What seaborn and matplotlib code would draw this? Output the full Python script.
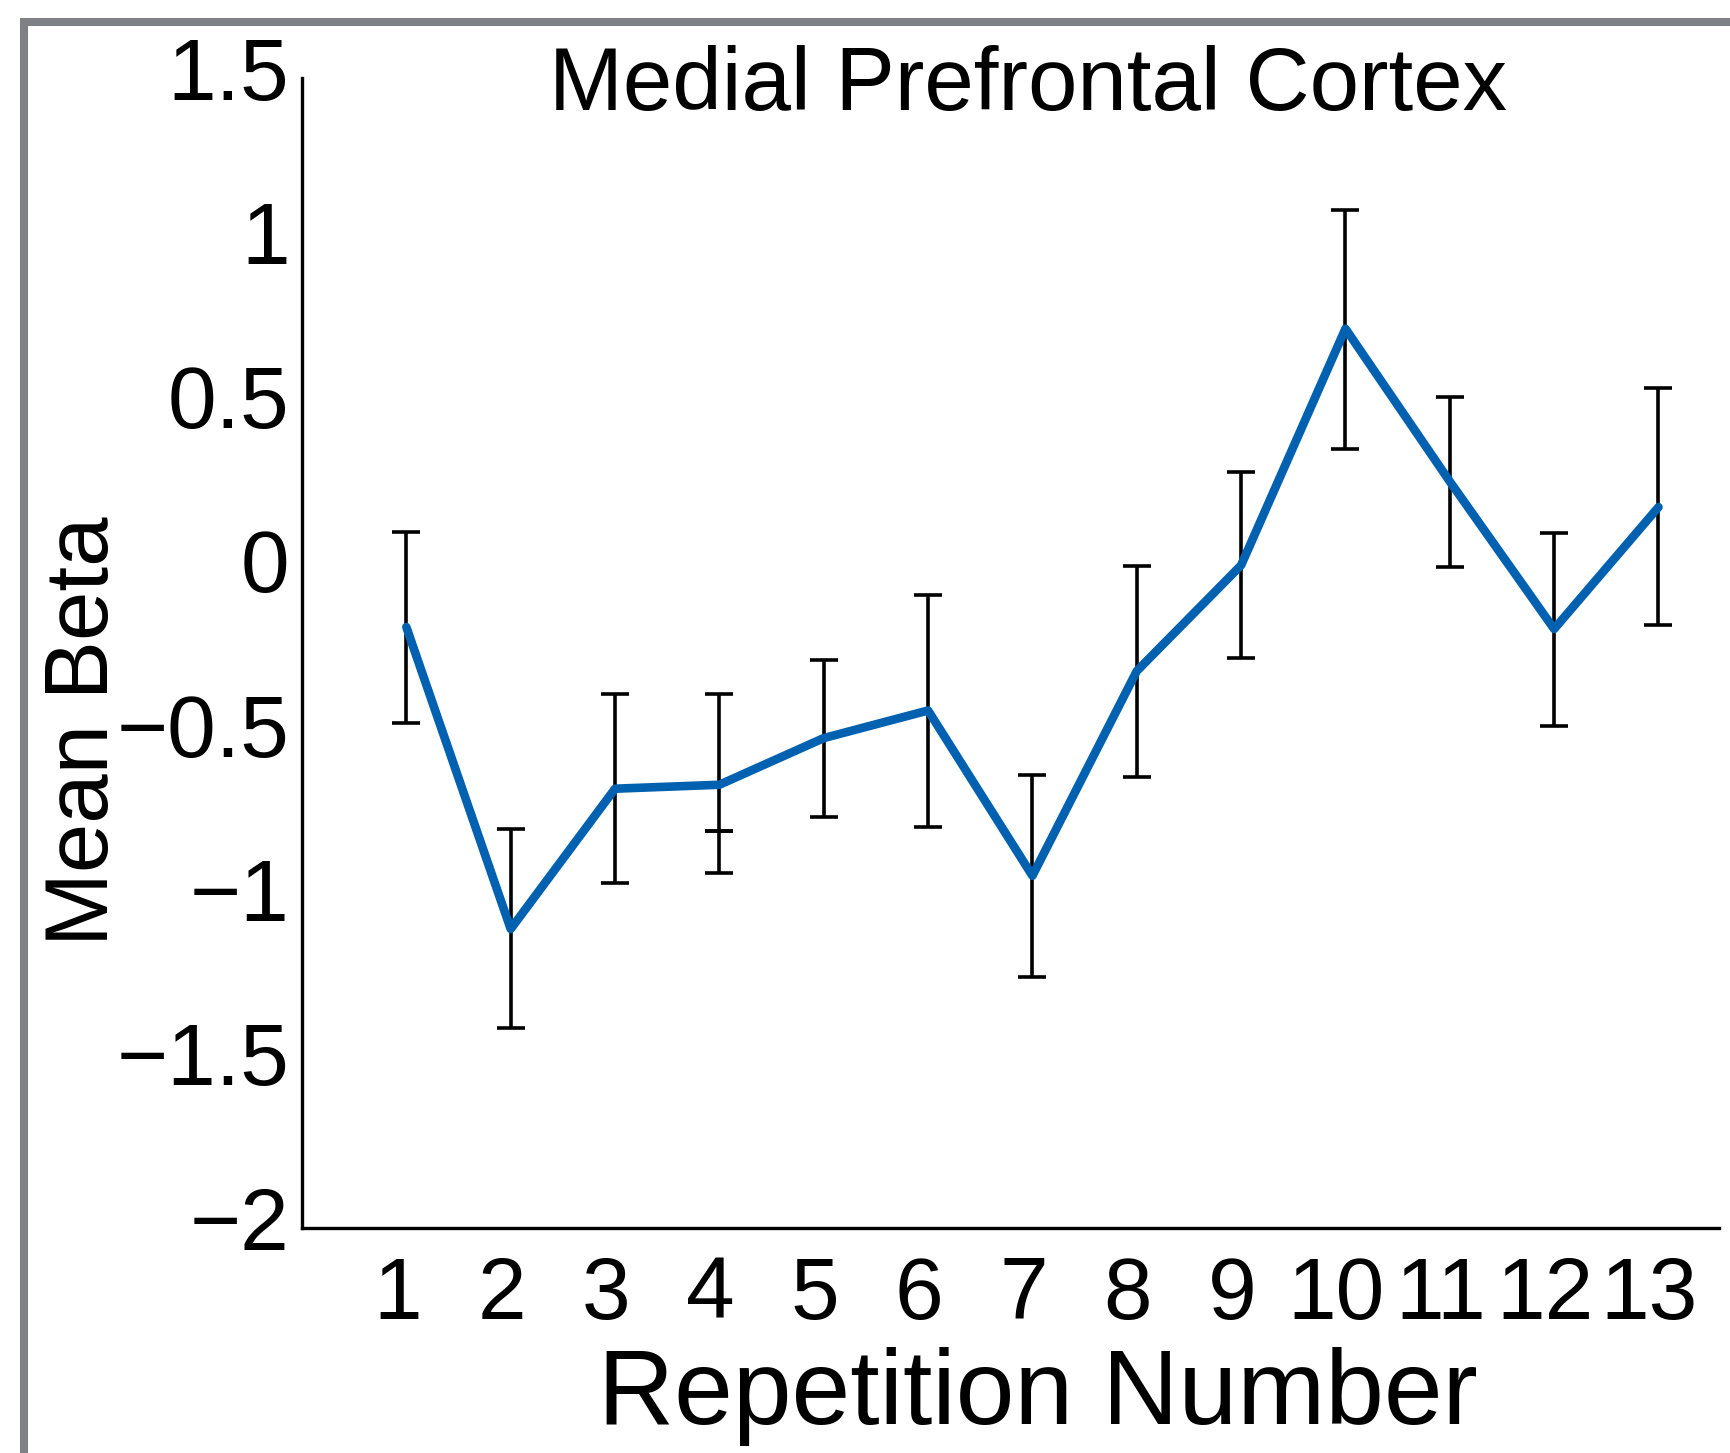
import numpy as np
import pandas as pd
import matplotlib
matplotlib.use("Agg")
import matplotlib.pyplot as plt
import matplotlib.transforms as mtransforms
from matplotlib.patches import Rectangle
import seaborn as sns

# values
reps = [1, 2, 3, 4, 5, 6, 7, 8, 9, 10, 11, 12, 13]
mean_beta = [-0.171, -1.090, -0.663, -0.651, -0.509, -0.425, -0.928,
             -0.305, 0.017, 0.737, 0.272, -0.177, 0.194]
err_upper = [0.119, -0.785, -0.376, -0.376, -0.271, -0.073, -0.622,
             0.014, 0.302, 1.097, 0.530, 0.114, 0.558]
err_lower = [-0.463, -1.392, -0.951, -0.921, -0.750, -0.779, -1.237,
             -0.626, -0.265, 0.371, 0.011, -0.473, -0.164]
# stray extra cap drawn on bar 4 in the original figure
extra_cap_x = [4]
extra_cap_y = [-0.791]

yticks = [-2, -1.5, -1, -0.5, 0, 0.5, 1, 1.5]
ytick_labels = ['\u22122', '\u22121.5', '\u22121', '\u22120.5', '0', '0.5', '1', '1.5']
xtick_labels = [str(r) for r in reps]

df = pd.DataFrame({'rep': reps, 'beta': mean_beta})

sns.set_theme(style='white')
plt.rcParams['font.family'] = ['Liberation Sans', 'DejaVu Sans']

W, H, DPI = 1731, 1453, 100
fig = plt.figure(figsize=(W / DPI, H / DPI), dpi=DPI)
fig.patch.set_facecolor('white')

# axes box in pixels: left 302, right 1719, top 78, bottom 1228
ax = fig.add_axes([302 / W, 1 - 1228 / H, (1719 - 302) / W, (1228 - 78) / H])
ax.set_facecolor('white')

lo = np.array(mean_beta) - np.array(err_lower)
hi = np.array(err_upper) - np.array(mean_beta)
ax.errorbar(reps, mean_beta, yerr=[lo, hi], fmt='none', ecolor='black',
            elinewidth=2.6, capsize=10, capthick=2.6, zorder=2)
ax.errorbar(extra_cap_x, extra_cap_y, yerr=[[0], [0]], fmt='none', ecolor='black',
            elinewidth=2.6, capsize=10, capthick=2.6, zorder=2)
sns.lineplot(data=df, x='rep', y='beta', ax=ax, color='#0061b0', linewidth=6.2,
             zorder=3, legend=False)

ax.set_xlim(0, 13.58)
ax.set_ylim(-2, 1.5)
ax.set_xticks(reps)
ax.set_xticklabels(xtick_labels)
ax.set_yticks(yticks)
ax.set_yticklabels(ytick_labels)
ax.set_xlabel('')
ax.set_ylabel('')

for s in ['top', 'right']:
    ax.spines[s].set_visible(False)
for s in ['left', 'bottom']:
    ax.spines[s].set_color('black')
    ax.spines[s].set_linewidth(2.4)

ax.tick_params(axis='both', direction='in', length=9, width=2.2, color='black',
               labelsize=63, labelcolor='black')
ax.tick_params(axis='x', pad=20)
ax.tick_params(axis='y', pad=9)

# MATLAB-style label offsets
up = mtransforms.ScaledTranslation(0, 10 / DPI, fig.dpi_scale_trans)
for lab in ax.get_yticklabels():
    lab.set_transform(lab.get_transform() + up)
left = mtransforms.ScaledTranslation(-9 / DPI, 0, fig.dpi_scale_trans)
for lab in ax.get_xticklabels():
    lab.set_transform(lab.get_transform() + left)

fig.text(1028 / W, 1 - 110 / H, 'Medial Prefrontal Cortex', fontsize=64,
         ha='center', va='baseline', color='black')
fig.text(1038 / W, 1 - 1424 / H, 'Repetition Number', fontsize=76,
         ha='center', va='baseline', color='black')
fig.text(108 / W, 1 - 731 / H, 'Mean Beta', fontsize=64, rotation=90,
         rotation_mode='anchor', ha='center', va='baseline', color='black')

# grey frame of the surrounding figure panel (right/bottom edges fall outside)
top_y = 1 - 21.5 / H
fig.add_artist(Rectangle((24 / W, -0.2), 2.0, top_y + 0.2, transform=fig.transFigure,
                         fill=False, edgecolor='#7f8084', linewidth=5.8, zorder=0))

fig.savefig('out.png', dpi=DPI, facecolor='white')
